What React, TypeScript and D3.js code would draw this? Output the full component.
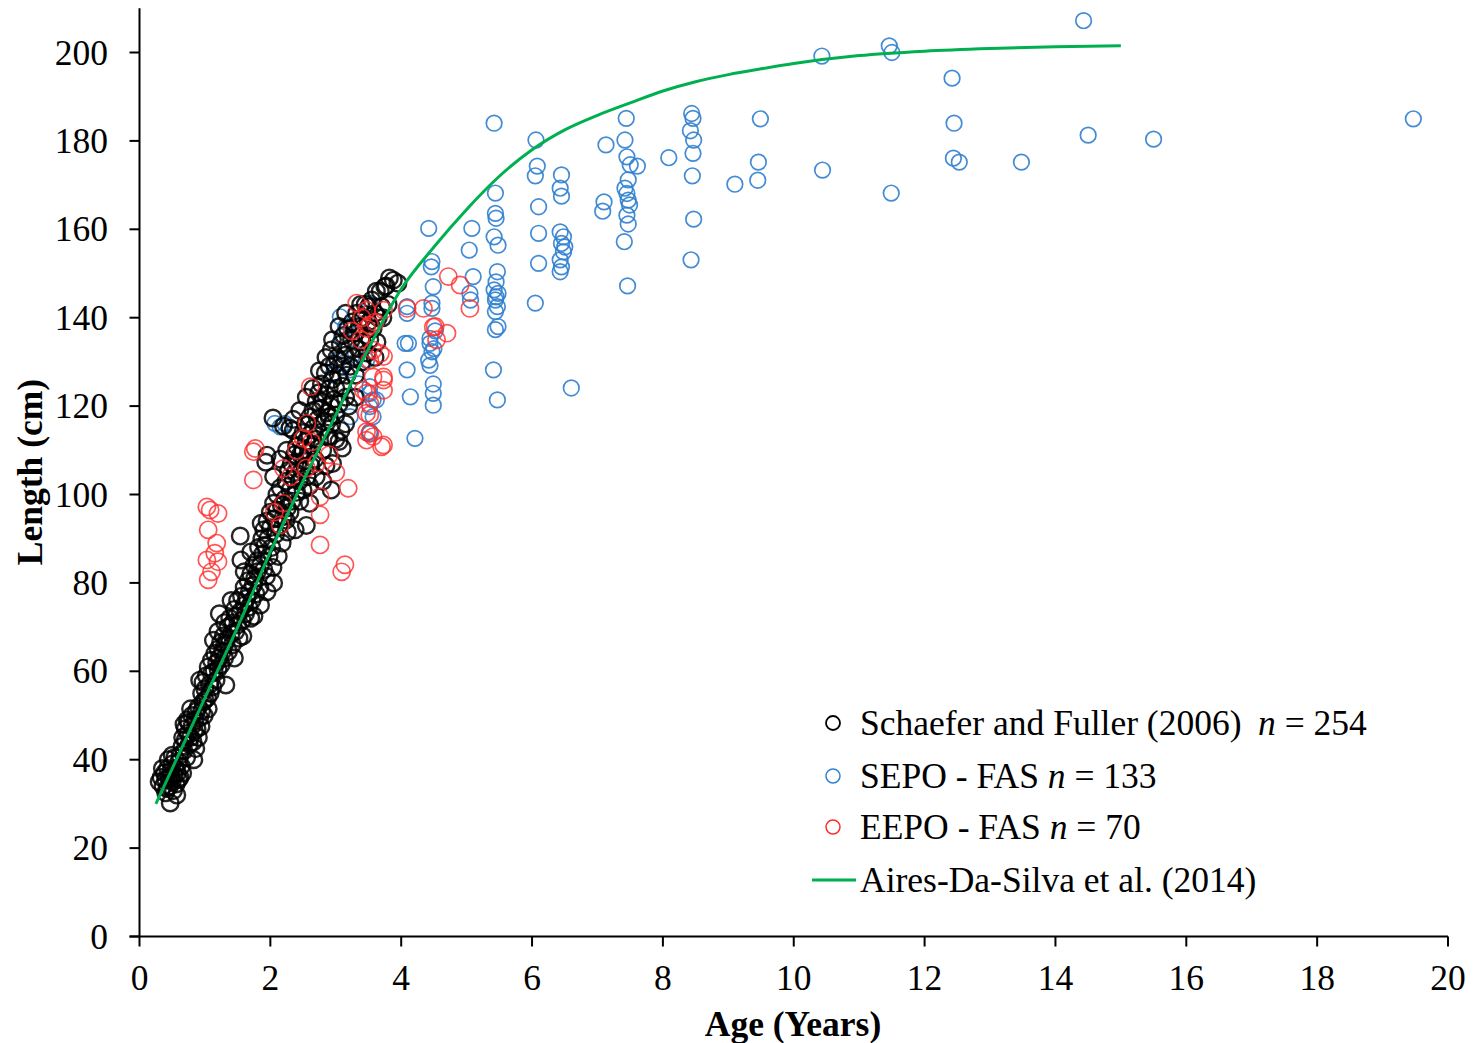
import React from "react";
import * as d3 from "d3";

const xTicks = [0, 2, 4, 6, 8, 10, 12, 14, 16, 18, 20];
const yTicks = [0, 20, 40, 60, 80, 100, 120, 140, 160, 180, 200];

const curveAges = [0.25, 0.5, 1, 1.5, 2, 2.5, 3, 3.5, 4, 4.5, 5, 5.5, 6, 6.5, 7, 7.5, 8, 8.5, 9, 9.5, 10, 11, 12, 13, 14, 15];
const curveLengths = [30, 38, 54, 70, 87, 103, 118, 133, 146.5, 156, 164.5, 172, 178, 182.5, 185.8, 188.6, 191.3, 193.4, 195, 196.3, 197.5, 199.3, 200.3, 200.9, 201.3, 201.5];

const schaefer: [number, number][] = [
  [0.47,30.2],[0.3,35],[0.33,36],[0.36,34],[0.38,37],[0.4,35.5],[0.42,33.5],[0.43,38],[0.45,36],[0.46,34],[0.48,37.5],[0.5,35],[0.5,39],[0.52,33],[0.53,36.5],[0.55,38],[0.56,34.5],[0.58,37],[0.6,35.5],[0.6,39.5],[0.62,36],[0.64,38.5],[0.44,40],[0.4,32.5],[0.35,38],[0.57,32],[0.5,41],[0.66,37],[0.54,40.5],[0.48,36],
  [0.62,41],[0.65,43],[0.66,45],[0.68,42],[0.7,44.5],[0.7,47],[0.72,40.5],[0.74,46],[0.75,48.5],[0.76,43.5],[0.78,45],[0.8,47.5],[0.8,50],[0.82,44],[0.84,46.5],[0.85,49],[0.87,51],[0.88,47],[0.9,45],[0.9,52],[0.92,49.5],[0.94,47.5],[0.95,51],[0.97,53],[0.73,49],[0.68,48],[0.83,40],[0.86,42.5],[0.78,51.5],[0.99,50],
  [0.95,55],[0.97,57.5],[1.0,53.5],[1.0,56],[1.02,59],[1.04,54],[1.05,61],[1.07,57],[1.08,55],[1.1,59.5],[1.1,62.5],[1.12,56.5],[1.14,60],[1.15,64],[1.17,58],[1.18,62],[1.2,65],[1.2,60.5],[1.22,63],[1.24,66.5],[1.25,61.5],[1.27,64.5],[1.28,68],[1.3,63],[1.32,56.9],[1.22,73],[0.92,58],[1.05,51.5],[1.13,67],[1.3,66],
  [1.33,67],[1.35,70],[1.36,64.5],[1.38,72],[1.4,68.5],[1.42,66],[1.43,71],[1.45,74],[1.47,69],[1.48,72.5],[1.5,76],[1.5,70.5],[1.52,67.5],[1.54,73.5],[1.56,77],[1.57,71.5],[1.6,75],[1.6,79],[1.62,73],[1.64,76.5],[1.66,80.5],[1.67,74.5],[1.68,78],[1.7,82],[1.72,76],[1.74,79.5],[1.75,84],[1.45,63],[1.58,68],[1.7,72],
  [1.76,81],[1.78,77.5],[1.8,85],[1.8,82.5],[1.82,88],[1.84,79],[1.85,84],[1.87,90],[1.88,86.5],[1.9,83],[1.9,92],[1.92,88.5],[1.94,81.5],[1.95,94],[1.96,90],[1.98,86],[2.0,96],[2.0,92.5],[2.02,88],[2.04,83.5],[2.05,98],[2.06,94.5],[2.08,91],[2.1,100],[2.1,96.5],[2.12,86],[2.14,93],[2.15,101.5],[2.17,97.5],[2.18,89],[1.54,90.6],[1.55,85.2],[1.86,93.5],[2.2,95],[2.24,94.2],[2.26,91.5],
  [2.22,99],[2.24,103],[2.26,97],[2.28,105.5],[2.3,101],[2.32,107],[2.33,98.5],[2.35,103.5],[2.37,109],[2.38,105],[2.4,100.5],[2.4,111],[2.42,107],[2.44,103],[2.45,112.5],[2.46,109],[2.48,105.5],[2.5,114],[2.5,110],[2.52,107.5],[2.54,116],[2.55,112],[2.56,104],[2.58,109.5],[2.6,117.5],[2.6,113.5],[2.62,106.5],[2.64,111],[2.65,119],[2.66,115],[2.68,108],[2.7,121],[2.7,112.5],[1.95,108.9],[1.93,107.3],[2.04,117.3],[2.2,115.5],[2.3,115],[2.35,114.5],[2.45,98.5],
  [2.72,117],[2.74,123],[2.75,114],[2.77,119.5],[2.78,125],[2.8,121],[2.8,110],[2.82,116.5],[2.84,127.5],[2.85,122.5],[2.87,118.5],[2.88,113],[2.9,129],[2.9,124],[2.92,120],[2.93,132.7],[2.94,116],[2.95,126],[2.97,121.5],[2.98,129.5],[3.0,118],[3.0,124],[3.02,131],[3.04,127],[3.05,120.5],[3.07,134],[3.08,114.5],[3.1,129],[3.1,124.5],[3.12,136],[3.14,131.5],[3.15,122],[3.17,127],[3.18,137.5],[3.2,133],[2.93,101],[2.95,107],[2.85,106.5],[3.1,110.5],[3.05,112],
  [3.22,129],[3.24,135],[3.25,139],[3.27,131],[3.3,136.5],[3.3,127],[3.32,141],[3.34,133],[3.36,138],[3.38,143],[3.4,134.5],[3.4,130],[3.42,140],[3.45,143],[3.46,136],[3.48,132],[3.5,139],[3.5,142.5],[3.52,135],[3.55,144],[3.57,137.5],[3.6,141],[3.62,146],[3.63,134.5],[3.65,140],[3.68,146],[3.7,142.5],[3.72,140],[3.75,147],[3.77,147.2],[3.8,143],[3.82,149],[3.88,148.5],[3.95,147.8],[3.6,131],
  [2.3,96],[2.38,92],[2.5,101],[2.6,98],[2.7,104],[2.8,103],[2.55,93],[2.05,104],[2.15,108],[2.25,110],[2.35,117],[2.45,119],[2.55,122],[2.65,124],[2.75,128],[2.85,131],[2.95,135],[3.05,138],[3.15,141],[2.9,117.5],[3.0,112.5],[3.2,120],[3.3,122],[3.15,116],[2.6,102],[2.9,113],[1.85,75],[1.95,78],[2.05,80],[1.75,72.5],[1.6,82.5],[1.7,87],[1.4,76],[1.3,71],[1.2,69]
];

const sepo: [number, number][] = [
  [14.43,207.2],[11.46,201.5],[11.5,200],[10.43,199.2],[12.42,194.2],[19.47,185],[9.49,185],[14.5,181.3],[15.5,180.4],[12.45,184],[12.44,176.1],[12.53,175.2],[13.48,175.2],[9.46,175.2],[9.45,171.1],[9.1,170.2],[10.44,173.4],[11.49,168.2],
  [8.44,186.2],[8.46,185.1],[8.42,182.3],[8.47,180.2],[8.46,177.2],[8.45,172.1],[8.47,162.3],[8.43,153.1],[8.09,176.2],
  [7.44,185.1],[7.42,180.2],[7.45,176.4],[7.5,174.6],[7.61,174.3],[7.47,171.2],[7.42,169.3],[7.45,168.1],[7.47,166.6],[7.49,165.5],[7.45,163.2],[7.47,161.2],[7.41,157.2],[7.46,147.2],[7.13,179.1],[7.1,166.2],[7.08,164.1],
  [6.45,172.3],[6.43,169.3],[6.45,167.5],[6.43,159.4],[6.48,158.3],[6.45,156.8],[6.5,156],[6.48,154.9],[6.43,153.1],[6.45,151.5],[6.43,150.4],[6.6,124.1],
  [6.06,180.2],[6.08,174.3],[6.05,172.1],[6.1,165.1],[6.1,159.1],[6.1,152.3],[6.05,143.3],
  [5.42,184],[5.44,168.2],[5.44,163.6],[5.45,162.5],[5.42,158.3],[5.48,156.4],[5.47,150.4],[5.45,148.1],[5.42,146.3],[5.48,145.5],[5.45,144.7],[5.44,144],[5.47,142.5],[5.44,141.4],[5.48,138],[5.44,137.3],[5.41,128.2],[5.47,121.4],
  [5.08,160.2],[5.04,155.3],[5.1,149.3],[5.05,145.5],[5.06,144],
  [4.42,160.2],[4.47,152.7],[4.46,151.5],[4.49,147],[4.47,143.3],[4.47,142.1],[4.44,135.3],[4.44,134.2],[4.47,132.3],[4.42,130.4],[4.44,129.2],[4.49,125],[4.49,122.9],[4.49,120.2],[4.52,137],[4.5,133],
  [4.09,142.5],[4.09,141],[4.06,134.2],[4.11,134.2],[4.09,128.2],[4.14,122.1],[4.21,112.7],
  [2.07,116.1],[2.15,115.3],[2.22,116.1],[3.22,117.6],[3.52,122.9],[3.62,121.4],[3.52,114.2],[3.07,140.2],[3.09,135.7],[3.02,130.4],[3.12,129.7],[3.22,128.2],[3.52,143.3],[3.47,130.4],[3.52,124.4],[3.57,121.4],[3.52,119.9],[3.57,117.6],[3.52,113.8],[3.15,138],[3.3,132],[2.95,127],[3.35,125]
];

const eepo: [number, number][] = [
  [1.03,97.2],[1.08,96.5],[1.2,95.7],[1.05,92],[1.18,89],[1.15,86.7],[1.03,85.2],[1.2,84.8],[1.05,80.7],[1.1,82.5],[1.74,109.7],[1.77,110.4],[1.74,103.3],[2.2,105.9],[2.56,116.1],[2.5,112.7],[2.63,111.9],[2.71,107.1],[2.61,124.4],[2.15,93.1],[2.76,99.5],[2.76,95.4],[2.76,88.6],[3.19,101.4],[3.09,82.5],[3.14,84.1],[3.42,123.6],[3.52,120.6],[3.47,114.2],[3.57,113.1],[3.7,110.8],[3.32,143.3],[3.47,141.7],[3.52,138.3],[3.47,137.6],[3.73,141.7],[4.09,142.1],[4.34,142.1],[4.49,137.9],[3.52,130.4],[3.73,131.2],[3.57,126.6],[3.73,126.6],[3.73,123.6],[3.47,122.9],[3.52,118],[3.47,118.4],[3.52,113.8],[3.47,112.3],[3.73,111.2],[3.57,132.7],[4.72,149.3],[4.9,147.4],[5.05,142.1],[4.52,138],[4.7,136.5],[4.54,135],[3.68,131.9],[3.73,125.9],[3.4,140],[3.6,139],[2.4,110],[2.3,104],[2.9,109],[3.0,105],[2.55,106],[3.25,137],[3.38,135],[2.06,96],[2.2,98]
];

const FONT = "'Liberation Serif', 'Times New Roman', serif";
const BLACK = "#000000";
const BLUE = "#2f80cf";
const RED = "#ff2a2a";
const GREEN = "#00b050";

export default function App() {
  const W = 1473, H = 1043;
  const x = d3.scaleLinear().domain([0, 20]).range([139.5, 1448]);
  const y = d3.scaleLinear().domain([0, 210]).range([936.5, 8.3]);
  const line = d3.line<number>().x((_, i) => x(curveAges[i])).y((d) => y(d)).curve(d3.curveMonotoneX);

  const circles = (data: [number, number][], color: string, r: number, sw: number, op: number) =>
    data.map((d, i) => (
      <circle key={i} cx={x(d[0])} cy={y(d[1])} r={r} fill="none" stroke={color} strokeWidth={sw} strokeOpacity={op} />
    ));

  const FS = 35.5;

  return (
    <svg width={W} height={H} style={{ position: "absolute", left: 0, top: 0, background: "#fff" }} fontFamily={FONT}>
      <rect x={0} y={0} width={W} height={H} fill="#fff" />
      <g>{circles(sepo, BLUE, 7.8, 1.7, 0.9)}</g>
      <g>{circles(schaefer, BLACK, 8.3, 2.4, 0.85)}</g>
      <g>{circles(eepo, RED, 8.6, 1.7, 0.8)}</g>
      <path d={line(curveLengths) || ""} fill="none" stroke={GREEN} strokeWidth={3} />

      {/* axes */}
      <line x1={x(0)} x2={x(0)} y1={y(210)} y2={y(0)} stroke="#000" strokeWidth={2} />
      <line x1={x(0) - 10} x2={x(20)} y1={y(0)} y2={y(0)} stroke="#000" strokeWidth={2} />
      {yTicks.map((t) => (
        <g key={"y" + t}>
          <line x1={x(0) - 10} x2={x(0)} y1={y(t)} y2={y(t)} stroke="#000" strokeWidth={2} />
          <text x={108} y={y(t) + 12} fontSize={FS} textAnchor="end" fill="#000">{t}</text>
        </g>
      ))}
      {xTicks.map((t) => (
        <g key={"x" + t}>
          <line x1={x(t)} x2={x(t)} y1={y(0)} y2={y(0) + 10} stroke="#000" strokeWidth={2} />
          <text x={x(t)} y={990} fontSize={FS} textAnchor="middle" fill="#000">{t}</text>
        </g>
      ))}
      <text x={793} y={1036} fontSize={FS} fontWeight="bold" textAnchor="middle" fill="#000">Age (Years)</text>
      <text transform="translate(42,472) rotate(-90)" fontSize={FS} fontWeight="bold" textAnchor="middle" fill="#000">Length (cm)</text>

      {/* legend */}
      <circle cx={833} cy={723} r={7} fill="none" stroke={BLACK} strokeWidth={1.8} />
      <text x={860} y={735} fontSize={FS} fill="#000">Schaefer and Fuller (2006)<tspan x={1258} fontStyle="italic">n</tspan><tspan> = 254</tspan></text>
      <circle cx={833} cy={776} r={7} fill="none" stroke={BLUE} strokeWidth={1.5} />
      <text x={860} y={788} fontSize={FS} fill="#000">SEPO - FAS <tspan fontStyle="italic">n</tspan> = 133</text>
      <circle cx={833} cy={827} r={7} fill="none" stroke={RED} strokeWidth={1.5} />
      <text x={860} y={839} fontSize={FS} fill="#000">EEPO - FAS <tspan fontStyle="italic">n</tspan> = 70</text>
      <line x1={812} x2={856} y1={880} y2={880} stroke={GREEN} strokeWidth={3} />
      <text x={860} y={892} fontSize={FS} fill="#000">Aires-Da-Silva et al. (2014)</text>
    </svg>
  );
}
